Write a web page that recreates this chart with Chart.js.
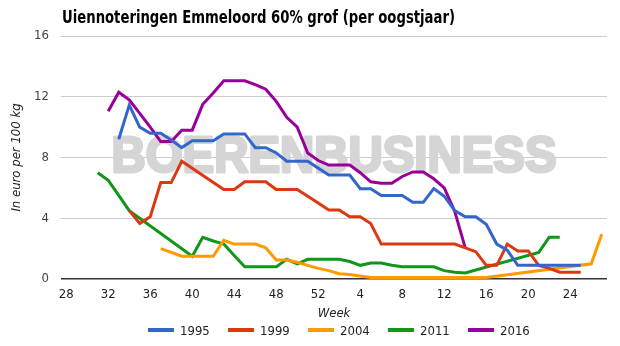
<!DOCTYPE html>
<html>
<head>
<meta charset="utf-8">
<script src="https://cdn.jsdelivr.net/npm/chart.js@4/dist/chart.umd.min.js"></script>
<style>
  html, body { margin: 0; padding: 0; background: #fff; }
  #wrap { position: relative; width: 620px; height: 346px; }
  #title {
    position: absolute; left: 62px; top: 6px;
    font: bold 18px "DejaVu Sans Condensed", "DejaVu Sans", sans-serif;
    color: #000; white-space: nowrap; transform-origin: 0 0;
  }
  #legend {
    position: absolute; left: 148px; top: 322px; display: flex;
    font: 13px "DejaVu Sans Condensed", "DejaVu Sans", sans-serif; color: #222;
  }
  .item { display: flex; align-items: center; width: 80px; height: 16px; }
  .swatch { display: inline-block; width: 26px; height: 4px; margin-right: 6px; }
  canvas { position: absolute; left: 0; top: 0; }
</style>
</head>
<body>
<div id="wrap">
  <canvas id="chart" width="620" height="346"></canvas>
  <div id="title">Uiennoteringen Emmeloord 60% grof (per oogstjaar)</div>
  <div id="legend"></div>
</div>
<script>
'use strict';

// season weeks: 28 .. 52, then 1 .. 27 of the next year
const WEEKS = [
  28, 29, 30, 31, 32, 33, 34, 35, 36, 37, 38, 39, 40, 41, 42, 43, 44, 45, 46, 47, 48, 49, 50, 51, 52,
  1, 2, 3, 4, 5, 6, 7, 8, 9, 10, 11, 12, 13, 14, 15, 16, 17, 18, 19, 20, 21, 22, 23, 24, 25, 26, 27,
];
const Y_TICKS = [0, 4, 8, 12, 16];

const s1995 = [
  null, null, null, null, null, 9.2, 11.45, 10.0, 9.6, 9.6, 9.15, 8.65, 9.1,
  9.1, 9.1, 9.55, 9.55, 9.55, 8.65, 8.65, 8.3, 7.75, 7.75, 7.75, 7.3, 6.85,
  6.85, 6.85, 5.95, 5.95, 5.5, 5.5, 5.5, 5.05, 5.05, 5.95, 5.45, 4.5, 4.1,
  4.1, 3.6, 2.3, 1.9, 0.9, 0.9, 0.9, 0.9, 0.9, 0.9, 0.9, null, null,
];
const s1999 = [
  null, null, null, null, null, null, 4.5, 3.65, 4.1, 6.35, 6.35, 7.75, null,
  null, null, 5.9, 5.9, 6.4, 6.4, 6.4, 5.9, 5.9, 5.9, 5.45, 5.0, 4.55,
  4.55, 4.1, 4.1, 3.65, 2.3, 2.3, 2.3, 2.3, 2.3, 2.3, 2.3, 2.3, 2.05,
  1.8, 0.9, 0.9, 2.3, 1.85, 1.85, 0.9, 0.7, 0.45, 0.45, 0.45, null, null,
];
const s2004 = [
  null, null, null, null, null, null, null, null, null, 2.0, 1.75, 1.5, 1.5,
  1.5, 1.5, 2.55, 2.3, 2.3, 2.3, 2.05, 1.25, 1.25, 1.1, 0.9, 0.7, 0.55,
  0.35, 0.3, 0.2, 0.1, 0.1, 0.1, 0.1, 0.1, 0.1, 0.1, 0.1, 0.1, 0.1,
  0.1, 0.1, null, null, null, null, null, null, null, null, null, 1.0, 2.95,
];
const s2011 = [
  null, null, null, 7.0, 6.5, 5.5, 4.5, null, null, null, null, null, 1.5,
  2.75, 2.5, 2.3, 1.55, 0.8, 0.8, 0.8, 0.8, 1.3, 1.0, 1.3, 1.3, 1.3,
  1.3, 1.15, 0.9, 1.05, 1.05, 0.9, 0.8, 0.8, 0.8, 0.8, 0.55, 0.45, 0.4,
  null, null, null, null, null, null, 1.75, 2.75, 2.75, null, null, null, null,
];
const s2016 = [
  null, null, null, null, 11.05, 12.3, 11.8, 10.9, 10.0, 9.05, 9.05, 9.8, 9.8,
  11.5, 12.25, 13.05, 13.05, 13.05, 12.8, 12.5, 11.7, 10.65, 10.0, 8.3, 7.8, 7.5,
  7.5, 7.5, 7.0, 6.4, 6.3, 6.3, 6.75, 7.05, 7.05, 6.6, 6.0, 4.45, 2.05,
  null, null, null, null, null, null, null, null, null, null, null, null, null,
];

const SERIES = [
  { label: '1995', data: s1995, color: '#3366cc' },
  { label: '1999', data: s1999, color: '#dc3912' },
  { label: '2004', data: s2004, color: '#ff9900' },
  { label: '2011', data: s2011, color: '#109618' },
  { label: '2016', data: s2016, color: '#990099' },
];

const FONT = '"DejaVu Sans Condensed", "DejaVu Sans", sans-serif';

// squeeze the title to the width it has in the original
const titleEl = document.getElementById('title');
titleEl.style.transform = `scaleX(${393 / titleEl.getBoundingClientRect().width})`;

const legendEl = document.getElementById('legend');
for (const s of SERIES) {
  const item = document.createElement('span');
  item.className = 'item';
  item.innerHTML = `<span class="swatch" style="background:${s.color}"></span>${s.label}`;
  legendEl.appendChild(item);
}

const watermark = {
  id: 'watermark',
  beforeDatasetsDraw(chart) {
    const { ctx, chartArea } = chart;
    const text = 'BOERENBUSINESS';
    const cx = (chartArea.left + chartArea.right) / 2;
    ctx.save();
    ctx.font = 'bold 50px "Liberation Sans", Arial, sans-serif';
    const w = ctx.measureText(text).width;
    ctx.translate(cx, 172);
    ctx.scale(445 / w, 1);
    ctx.fillStyle = '#d5d5d5';
    ctx.strokeStyle = '#d5d5d5';
    ctx.lineWidth = 3;
    ctx.lineJoin = 'round';
    ctx.textAlign = 'center';
    ctx.textBaseline = 'alphabetic';
    ctx.strokeText(text, 0, 0);
    ctx.fillText(text, 0, 0);
    ctx.restore();
  },
};

new Chart(document.getElementById('chart').getContext('2d'), {
  type: 'line',
  data: {
    labels: WEEKS,
    datasets: SERIES.map(s => ({
      label: s.label,
      data: s.data,
      borderColor: s.color,
      backgroundColor: s.color,
      borderWidth: 3,
      pointRadius: 0,
      tension: 0,
      spanGaps: true,
    })),
  },
  options: {
    responsive: false,
    animation: false,
    layout: { padding: { top: 36, right: 13, bottom: 25, left: 0 } },
    plugins: {
      tooltip: { enabled: false },
      legend: { display: false },
    },
    scales: {
      x: {
        type: 'category',
        offset: true,
        grid: { display: false, drawTicks: false },
        border: { display: false },
        ticks: {
          color: '#222',
          font: { family: FONT, size: 13 },
          autoSkip: false,
          maxRotation: 0,
          padding: 8,
          callback: (v, i) => (i % 4 === 0 ? String(WEEKS[i]) : null),
        },
        title: {
          display: true,
          text: 'Week',
          color: '#222',
          font: { family: FONT, size: 13, style: 'italic' },
          padding: { top: 2, bottom: 0 },
        },
        afterFit(scale) { scale.height = 42; },
      },
      y: {
        min: 0,
        max: 16,
        grid: {
          drawTicks: false,
          color: ctx => (ctx.tick && ctx.tick.value === 0 ? '#333' : '#cccccc'),
          lineWidth: ctx => (ctx.tick && ctx.tick.value === 0 ? 1.5 : 1),
        },
        border: { display: false },
        afterBuildTicks(scale) { scale.ticks = Y_TICKS.map(v => ({ value: v })); },
        ticks: {
          color: '#444',
          font: { family: FONT, size: 13 },
          padding: 12,
        },
        title: {
          display: true,
          text: 'In euro per 100 kg',
          color: '#222',
          font: { family: FONT, size: 13, style: 'italic' },
          padding: { top: 9, bottom: 0 },
        },
        afterFit(scale) { scale.width = 61; },
      },
    },
  },
  plugins: [watermark],
});
</script>
</body>
</html>
